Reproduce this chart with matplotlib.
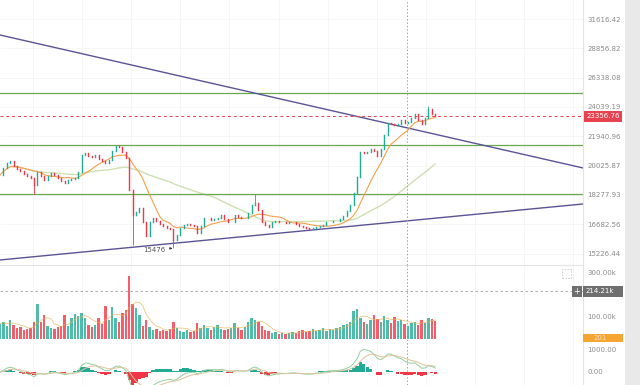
import numpy as np
import pandas as pd
import matplotlib
matplotlib.use("Agg")
import matplotlib.pyplot as plt
from matplotlib.patches import Rectangle
from matplotlib.ticker import FixedLocator, FixedFormatter, NullLocator
from matplotlib.transforms import IdentityTransform

# ---------------- data ----------------
close = [19450, 19879, 20191, 20317, 20003, 19817, 19694, 19510, 19389, 19269,
         18854, 19632, 19389, 19149, 19389, 19571, 19450, 19269, 19090, 18971,
         19149, 19209, 19269, 19632, 20700, 20830, 20636, 20572, 20700, 20444,
         20317, 20191, 20381, 20960, 21289, 21223, 20894, 20508, 18562, 17168,
         17330, 17547, 16798, 16083, 16798, 17009, 16851, 16694, 16591, 16488,
         16437, 15884, 16133, 16488, 16642, 16694, 16642, 16591, 16233, 16591,
         17009, 17009, 16903, 16956, 17009, 17168, 16956, 16798, 16798, 17168,
         17062, 17009, 17009, 17276, 17712, 17823, 17438, 16798, 16642, 16539,
         16798, 16851, 16798, 16798, 16746, 16798, 16798, 16694, 16591, 16539,
         16488, 16437, 16488, 16539, 16591, 16642, 16798, 16798, 16851, 16851,
         16956, 17115, 17384, 17712, 18389, 19329, 20894, 20830, 20894, 21091,
         20960, 20636, 21091, 22029, 22870, 22799, 22729, 22799, 23085, 22870,
         22942, 23229, 23521, 23085, 22799, 23229, 23890, 23521, 23357]

volume_k = [68, 77, 59, 86, 64, 50, 55, 41, 45, 50,
            77, 155, 77, 109, 59, 50, 45, 55, 59, 109,
            59, 95, 114, 105, 118, 95, 64, 55, 64, 95,
            68, 150, 86, 145, 95, 77, 118, 132, 282, 155,
            141, 109, 59, 86, 55, 41, 45, 36, 41, 36,
            45, 77, 50, 36, 32, 41, 32, 36, 73, 50,
            64, 50, 41, 55, 64, 45, 41, 45, 50, 73,
            50, 41, 55, 77, 95, 86, 77, 59, 41, 36,
            27, 32, 23, 27, 23, 27, 32, 27, 36, 41,
            32, 36, 45, 36, 41, 50, 36, 45, 41, 50,
            55, 64, 68, 77, 127, 136, 95, 77, 68, 86,
            109, 91, 77, 105, 86, 73, 100, 82, 86, 68,
            59, 73, 77, 64, 86, 73, 95, 91, 82]

wick_idx = [10, 39, 51, 75, 126]
wick_price = [18330, 15640, 15476, 18330, 24150]

price_ticks = [31616.42, 28856.82, 26338.08, 24039.19, 21940.96,
               20025.87, 18277.93, 16682.56, 15226.44]
last_price = 23356.76
levels = [25111, 21357, 18332]
upper_trend = [30083, 19880]
lower_trend = [14926, 17770]
low_label = "15476"
vol_ticks = [100, 300]
vol_tick_labels = ["100.00k", "300.00k"]
vol_cross = 214.21
vol_cross_label = "214.21k"
macd_ticks = [0, 1000]
macd_tick_labels = ["0.00", "1000.00"]
extra_tag = "201"
cross_idx = 119.7

# ---------------- styles ----------------
UP = "#22ab94"
DOWN = "#f23645"
AXCOL = "#8a8a8a"
GRID = "#f5f5f5"
SEP = "#e3e3e3"
FS = 5.0

W, H = 640, 385
PX = 3.4              # pixels per bar
PLOT_W = 583          # plot area width in px
XMAX = PLOT_W / PX

fig = plt.figure(figsize=(W / 100, H / 100), dpi=100)
fig.patch.set_facecolor("white")

def frac_rect(top_px, bot_px):
    return [0, 1 - bot_px / H, PLOT_W / W, (bot_px - top_px) / H]

ax = fig.add_axes(frac_rect(0, 265))
axv = fig.add_axes(frac_rect(265, 341))
axm = fig.add_axes(frac_rect(341, 385))

grid_x = (33 + 49.1 * np.arange(12)) / PX

for a in (ax, axv, axm):
    a.set_xlim(0, XMAX)
    a.set_xticks(grid_x)
    a.tick_params(axis="x", length=0, labelbottom=False)
    a.grid(axis="x", color=GRID, lw=0.6)
    a.yaxis.tick_right()
    a.tick_params(axis="y", length=0, pad=3, labelsize=FS, labelcolor=AXCOL)
    for sp in ("left", "bottom", "top"):
        a.spines[sp].set_visible(False)
    a.spines["right"].set_color(SEP)
    a.spines["right"].set_linewidth(0.8)
    a.set_facecolor("white")
    a.axvline(cross_idx, color="#a0a0a0", lw=0.7, ls=(0, (1.5, 2)), zorder=6)

axv.spines["top"].set_visible(True)
axv.spines["top"].set_color(SEP)
axv.spines["bottom"].set_visible(True)
axv.spines["bottom"].set_color(SEP)

# ---------------- main price panel ----------------
ax.set_yscale("log")
ax.set_ylim(14694, 33549)
ax.yaxis.set_major_locator(FixedLocator(price_ticks))
ax.yaxis.set_major_formatter(FixedFormatter([f"{v:.2f}" for v in price_ticks]))
ax.yaxis.set_minor_locator(NullLocator())
ax.grid(axis="y", color=GRID, lw=0.6)

idx = np.arange(len(close))
opens = np.array([close[0]] + close[:-1], dtype=float)
closes = np.array(close, dtype=float)
up = closes >= opens
cols = np.where(up, UP, DOWN)

for i in idx:
    if i in wick_idx:
        wp = wick_price[wick_idx.index(i)]
        lo = min(opens[i], closes[i], wp)
        hi = max(opens[i], closes[i], wp)
        ax.vlines(i, lo, hi, color=cols[i], lw=0.6, zorder=3)
lc = ax.vlines(idx, np.minimum(opens, closes), np.maximum(opens, closes),
               colors=cols, lw=1.0, zorder=4)
lc.set_capstyle("projecting")

s = pd.Series(closes)
ma_fast = s.rolling(10, min_periods=1).mean()
ma_slow = s.rolling(40, min_periods=4).mean()
ax.plot(idx, ma_fast, color="#f5a04a", lw=0.8, zorder=3)
ax.plot(idx, ma_slow, color="#cfe0b2", lw=1.0, zorder=2)

for lv in levels:
    ax.axhline(lv, color="#6aa84f", lw=0.9, zorder=2)
ax.plot([0, XMAX], upper_trend, color="#5a5496", lw=1.0, zorder=2)
ax.plot([0, XMAX], lower_trend, color="#5a5496", lw=1.0, zorder=2)
ax.axhline(last_price, color="#e8414f", lw=0.7, ls=(0, (3, 3)), zorder=2)

low_i = wick_idx[int(np.argmin(wick_price))]
ax.annotate(low_label, xy=(low_i, float(low_label)), xytext=(-6, -1),
            textcoords="offset points", ha="right", va="center",
            fontsize=FS, color="#555555")
ax.annotate("", xy=(low_i - 0.3, float(low_label)), xytext=(low_i - 1.6, float(low_label)),
            arrowprops=dict(arrowstyle="-|>", lw=0.6, color="#333333",
                            mutation_scale=3), zorder=5)

# ---------------- volume panel ----------------
axv.set_ylim(-9.1, 331.8)
axv.bar(idx, volume_k, width=0.7, color=cols, alpha=0.8, zorder=3)
vol_ma = pd.Series(volume_k, dtype=float).rolling(5, min_periods=1).mean()
axv.plot(idx, vol_ma, color="#e8b04a", lw=0.6, alpha=0.7, zorder=4)
axv.yaxis.set_major_locator(FixedLocator(vol_ticks))
axv.yaxis.set_major_formatter(FixedFormatter(vol_tick_labels))
axv.axhline(vol_cross, color="#9e9e9e", lw=0.6, ls=(0, (3, 3)), zorder=5)

# ---------------- MACD panel (12/26/9 on intraday bars, several bars per point) ----------------
def alpha_for(n, bars):
    return 1 - (1 - 2 / (n + 1)) ** bars

axm.set_ylim(-591, 1409)
ema_f = s.ewm(alpha=alpha_for(12, 3), adjust=False).mean()
ema_s = s.ewm(alpha=alpha_for(26, 3), adjust=False).mean()
macd = ema_f - ema_s
signal = macd.ewm(alpha=alpha_for(9, 1.5), adjust=False).mean()
hist = macd - signal
axm.bar(idx, hist, width=1.0, color=np.where(hist >= 0, UP, DOWN), zorder=3)
axm.plot(idx, macd, color="#8fcf9f", lw=0.7, zorder=4)
axm.plot(idx, signal, color="#ddc49c", lw=0.7, zorder=4)
axm.yaxis.set_major_locator(FixedLocator(macd_ticks))
axm.yaxis.set_major_formatter(FixedFormatter(macd_tick_labels))

# ---------------- axis tags ----------------
fig.canvas.draw()

def tag(a, value, text, fc, tc, x0=584, w=38, h=11):
    _, yd = a.transData.transform((0, value))
    fig.add_artist(Rectangle((x0, yd - h / 2), w, h, transform=IdentityTransform(),
                             fc=fc, ec="none", zorder=10))
    fig.text((x0 + 3) / W, yd / H, text, ha="left", va="center",
             fontsize=FS, color=tc, zorder=11)
    return yd

tag(ax, last_price, f"{last_price:.2f}", "#e8414f", "white")
yv = tag(axv, vol_cross, vol_cross_label, "#6f6f6f", "white", x0=583, w=40)
fig.add_artist(Rectangle((572, yv - 5.5), 10, 11, transform=IdentityTransform(),
                         fc="#6f6f6f", ec="none", zorder=10))
fig.text(577 / W, yv / H, "+", ha="center", va="center", fontsize=FS + 1,
         color="white", zorder=11)
# orange tag at the volume / MACD border
fig.add_artist(Rectangle((583, H - 342), 40, 8, transform=IdentityTransform(),
                         fc="#f7a531", ec="none", zorder=10))
fig.text(600 / W, (H - 338) / H, extra_tag, ha="center", va="center",
         fontsize=FS, color="#fde7c0", zorder=11)

# expand icon in volume pane
fig.add_artist(Rectangle((562, H - 278), 9, 9, transform=IdentityTransform(),
                         fc="none", ec="#c8c8c8", lw=0.6, ls=(0, (2, 1.5)), zorder=10))

# grey strip at the right edge
fig.add_artist(Rectangle((625 / W, 0), 15 / W, 1, transform=fig.transFigure,
                         fc="#e9e9e9", ec="none", zorder=0))

fig.savefig("out.png", dpi=100)
